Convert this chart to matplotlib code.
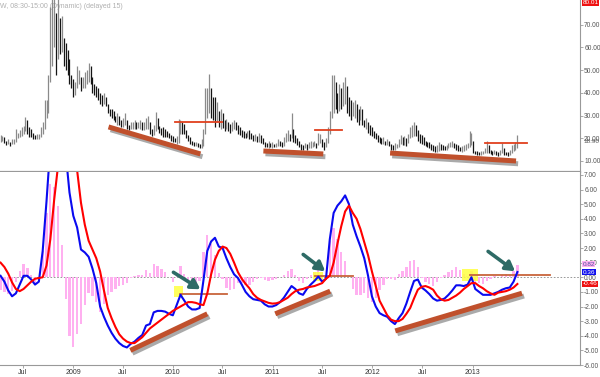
import numpy as np
import pandas as pd
import matplotlib
matplotlib.use("Agg")
import matplotlib.pyplot as plt
import matplotlib.patheffects as pe
from matplotlib.patches import Rectangle

plt.rcParams['font.family'] = ['Liberation Sans', 'DejaVu Sans']

# weekly VIX bars, first week ending 2008-04-11
start = pd.Timestamp('2008-04-11')

highs = [
    21.5, 21, 20.5, 19, 19.5, 18.5, 19.5, 19.5, 24, 22.5,
    23.5, 25, 25.5, 29.5, 28, 25, 24, 22.5, 21.5, 22,
    22, 25, 27, 37, 37, 48, 78, 85, 89, 75,
    84, 73, 74, 64, 62, 59, 55, 48, 46, 45,
    52, 50, 47, 47, 49, 50, 53, 52, 47, 44,
    43, 42, 40, 39, 40, 38, 35, 33, 33, 32,
    30, 31, 30, 28, 29, 31, 28, 26, 27, 27,
    28, 27, 27, 28, 27, 27, 29, 30, 27, 24,
    26, 31.5, 29, 25.5, 24.5, 25, 24, 23, 22.5, 21.5,
    21, 20, 21, 28.5, 28, 27, 26.5, 23.5, 21.5, 20.5,
    19, 18.5, 18.5, 18, 17.5, 19.5, 24, 42, 42, 48.5,
    42, 38, 38, 36, 32, 33, 31, 28, 28.5, 27,
    26.5, 27, 28, 27, 26, 25, 23.5, 23, 22.5, 23,
    23.5, 22.5, 21.5, 22, 21, 22.5, 21.5, 20, 18.5, 18,
    19, 18, 18.5, 17.5, 18, 19.5, 19, 18.5, 20.5, 22.5,
    23.5, 22, 31, 24, 21.5, 20, 19, 17.5, 17, 18,
    17.5, 18.5, 19, 18.5, 19, 18, 22.5, 22, 19.5, 18.5,
    20, 25, 32, 48, 48, 45, 40, 44, 42, 45,
    47, 43, 38, 37, 36, 37, 35, 33, 34, 33,
    28, 29, 27, 26, 25, 23, 22.5, 21.5, 20.5, 20,
    20.5, 19, 19.5, 19, 17.5, 17, 18, 17.5, 19.5, 21.5,
    20.5, 21, 20, 22, 25, 26, 27, 26, 23.5, 22,
    21.5, 20.5, 19, 18.5, 18.5, 17.5, 17, 16.5, 17, 18.5,
    17.5, 17, 16.5, 17, 18, 18.5, 19, 18, 17.5, 17,
    16, 16.5, 17, 17.5, 18, 23, 22.5, 19, 14.5, 14.5,
    14, 14.5, 14.5, 15.5, 19, 17, 15, 14.5, 15, 14.5,
    14, 15, 18, 15.5, 14, 14, 15, 17, 17.5, 18.5, 21.5]

lows = [
    18.5, 19, 18, 17, 17.5, 16.5, 17.5, 17.5, 18.5, 20,
    20.5, 21, 22, 23, 22, 20.5, 20.5, 19.5, 19.5, 19.5,
    19.5, 20.5, 22, 24, 29, 31, 45, 52, 60, 48,
    55, 57, 58, 52, 50, 48, 44, 42, 38, 39,
    42, 44, 41, 42, 42, 44, 45, 44, 40, 39,
    38, 37, 35, 34, 35, 34, 31, 30, 29, 28,
    27, 26, 26, 25, 25, 26, 24, 23.5, 24, 24,
    24, 24, 24.5, 24, 23.5, 23.5, 24, 24, 22, 21,
    21.5, 23, 24, 22.5, 21.5, 20.5, 20.5, 20.5, 20, 19,
    18.5, 18.5, 17.5, 18, 22, 22, 22, 20, 19, 17.5,
    17, 16.5, 16.5, 16, 15.5, 15.5, 16.5, 22, 29, 31,
    29, 28, 25, 27, 25, 24, 24.5, 23, 24, 23,
    22.5, 23, 24, 23.5, 22, 21.5, 20.5, 20, 20, 20.5,
    19.5, 19.5, 19, 19, 18.5, 18.5, 18, 17.5, 16, 16,
    15.5, 16, 15.5, 16, 16, 16.5, 16.5, 16, 16.5, 18.5,
    19, 19, 20, 18.5, 18, 17, 16, 15, 15, 15.5,
    15, 15.5, 15.5, 16, 16.5, 15.5, 17, 18, 16, 15,
    16, 18, 22, 29, 31, 33, 31, 32, 33, 34,
    35, 31, 30, 28, 30, 29, 27, 26, 28, 26,
    25, 24, 22.5, 21.5, 21, 20, 19.5, 18.5, 18, 17.5,
    17.5, 17, 17, 16.5, 15, 14.8, 15, 15.5, 16, 17.5,
    17, 17, 16.5, 18, 20, 20.5, 21, 21, 19, 18,
    17.5, 17, 16.5, 16, 15.5, 15, 14.5, 14, 14, 14.5,
    15, 15, 14.8, 15, 15.5, 16, 16, 15.5, 15, 14.5,
    14.5, 14, 14.5, 15, 15.5, 16, 17, 13.5, 13, 12.8,
    12.5, 12.8, 13, 13.5, 13.5, 13.5, 13, 12.8, 13, 12.5,
    12, 12.5, 13.5, 12.5, 12.5, 12.3, 12.5, 13.5, 14.5, 15, 15.5]

# MACD read every second week
macd = [
    0.1, -0.3, -0.9, -1.3, -1.1, -0.5, 0.1, 0.1, -0.15, -0.5,
    -0.3, 1.8, 5.2, 9, 11.5, 12.5, 11.5, 8.5, 5.8, 4.2,
    3.4, 1.9, 1.7, 1.4, 0.6, -0.4, -2.0, -2.7, -3.3, -3.8,
    -4.2, -4.5, -4.7, -4.8, -4.55, -4.4, -4.15, -3.95, -3.3, -3.2,
    -2.4, -2.3, -2.3, -2.35, -2.5, -2.6, -1.9, -1.2, -1.6, -2.0,
    -2.2, -2.2, -2.1, -0.2, 1.8, 2.45, 2.7, 2.1, 2.0, 1.3,
    0.7, 0.2, -0.05, -0.5, -1.0, -1.3, -1.5, -1.55, -1.6, -1.85,
    -2.0, -2.0, -1.9, -1.7, -1.4, -1.0, -0.6, -0.8, -1.1, -1.2,
    -0.8, -0.5, -0.25, 0.05, -0.3, -0.1, 2.6, 4.4, 4.9, 5.2,
    5.6, 5.0, 3.6, 2.8, 2.1, 1.3, 0.1, -1.3, -2.0, -2.45,
    -2.6, -2.7, -3.0, -3.2, -2.8, -2.45, -1.8, -1.0, -0.25, -0.15,
    -0.7, -0.9, -1.15, -1.45, -1.6, -1.55, -1.45, -1.2, -0.9, -0.55,
    -0.55, -0.6, -0.5, 0.0, -0.8, -1.0, -1.2, -1.2, -1.2, -1.1,
    -1.0, -0.85, -0.75, -0.7, -0.3, 0.36]

signal = [
    1.0, 0.7, 0.25, -0.35, -0.8, -0.95, -0.8, -0.55, -0.3, -0.1,
    -0.05, 0.0, 0.8, 2.6, 5.3, 7.6, 9.3, 10, 9.8, 9,
    7.3, 5.1, 3.6, 2.5, 1.9, 1.3, 0.4, -0.9, -2.1, -2.8,
    -3.4, -3.9, -4.2, -4.4, -4.5, -4.5, -4.3, -4.1, -3.8, -3.5,
    -3.3, -3.1, -2.9, -2.7, -2.5, -2.3, -2.15, -2.0, -1.85, -1.7,
    -1.7, -1.75, -1.85, -1.9, -1.1, 0.2, 1.2, 1.8, 2.1, 2.0,
    1.6, 1.0, 0.35, -0.1, -0.45, -0.75, -1.15, -1.4, -1.55, -1.65,
    -1.75, -1.8, -1.78, -1.7, -1.55, -1.4, -1.15, -0.95, -0.85, -0.8,
    -0.7, -0.65, -0.6, -0.5, -0.4, -0.1, 0.1, 1.0, 2.3, 3.5,
    4.5, 4.9, 4.4, 4.0, 3.3, 2.4, 1.5, 0.4, -0.6, -1.6,
    -2.1, -2.6, -2.9, -3.0, -3.0, -2.85, -2.5, -2.1, -1.45, -0.85,
    -0.65, -0.6, -0.7, -0.85, -1.25, -1.5, -1.6, -1.55, -1.4, -1.25,
    -1.05, -0.8, -0.6, -0.4, -0.4, -0.6, -0.75, -0.95, -1.1, -1.2,
    -1.05, -1.0, -0.95, -0.85, -0.7, -0.46]

tick_dates = ['2008-07-01', '2009-01-01', '2009-07-01', '2010-01-01', '2010-07-01',
              '2011-01-01', '2011-07-01', '2012-01-01', '2012-07-01', '2013-01-01']
tick_labels = ['Jul', '2009', 'Jul', '2010', 'Jul', '2011', 'Jul', '2012', 'Jul', '2013']

# hand drawn markup (week, value)
price_trends = [((56.4, 25.0), (104.4, 13.1)), ((137.3, 14.4), (168.6, 13.1)),
                ((203.5, 13.5), (269.3, 10.0))]
price_levels = [(91.3, 115.9, 27.2), (164.4, 178.5, 23.7), (253.1, 275.0, 17.9)]
macd_trends = [((67.8, -5.0), (108.0, -2.5)), ((143.5, -2.5), (172.2, -0.95)),
               ((206.2, -3.67), (272.4, -1.09))]
macd_levels = [(94.0, 118.5, -1.16), (164.4, 184.2, 0.07), (245.3, 287.0, 0.14)]
macd_boxes = [(90.8, 95.5, -1.36, -0.6), (163.4, 168.6, -0.27, 0.34), (241.1, 249.5, -0.27, 0.54)]
macd_arrows = [((90.3, 0.34), (104.4, -0.82)), ((158.1, 1.56), (169.6, 0.41)),
               ((254.7, 1.77), (268.8, 0.41))]

weeks = np.arange(len(highs))
mweeks = np.arange(0, len(highs), 2)
tick_pos = [(pd.Timestamp(d) - start).days / 7 for d in tick_dates]
hist = np.array(macd) - np.array(signal)

fig = plt.figure(figsize=(6, 3.77), dpi=100)
ax1 = fig.add_axes([0, 1 - 172 / 377, 580 / 600, 172 / 377])
ax2 = fig.add_axes([0, 1 - 365 / 377, 580 / 600, 193 / 377])
xmax = 580 / 1.916

shadow = [pe.SimpleLineShadow(offset=(1.5, -2), shadow_color='#444444', alpha=0.45), pe.Normal()]

# price panel
h = np.array(highs)
l = np.array(lows)
mid = (h + l) / 2
up = np.r_[True, mid[1:] >= mid[:-1]]
cols = np.where(up, '#8a8a8a', '#151515')
ax1.vlines(weeks, l, h, colors=cols, lw=0.9, zorder=2)
ax1.text(0.0, 0.965, 'W, 08:30-15:00 (Dynamic) (delayed 15)', transform=ax1.transAxes,
         fontsize=5, color='#b0b0b0', va='center', zorder=0)

for (p0, p1) in price_trends:
    ax1.plot([p0[0], p1[0]], [p0[1], p1[1]], color='#c0502c', lw=3.6,
             solid_capstyle='butt', path_effects=shadow, zorder=4)
for x0, x1, v in price_levels:
    ax1.plot([x0, x1], [v, v], color='#e0401e', lw=1.3, zorder=4)

ax1.set_xlim(-0.3, xmax)
ax1.set_ylim(5.15, 80.9)
ax1.set_xticks([])
ax1.yaxis.tick_right()
ax1.set_yticks([10, 20, 30, 40, 50, 60, 70])
ax1.set_yticklabels(['%.2f' % v for v in [10, 20, 30, 40, 50, 60, 70]])

ax1.text(1.004, 79.6, '80.01', transform=ax1.get_yaxis_transform(), fontsize=4.6,
         color='white', va='center', ha='left',
         bbox=dict(boxstyle='square,pad=0.12', fc='#ee1111', ec='none'), clip_on=False)
ax1.text(1.006, 18.4, '18.90', transform=ax1.get_yaxis_transform(), fontsize=4.6,
         color='#555555', va='center', ha='left', clip_on=False)

# macd panel
ax2.axhline(0, color='#888888', ls=(0, (2, 2)), lw=0.6, zorder=1)
ax2.bar(mweeks, hist, width=1.2, color='#ffb0f0', zorder=1)

for x0, x1, y0, y1 in macd_boxes:
    ax2.add_patch(Rectangle((x0, y0), x1 - x0, y1 - y0, fc='#ffff40', ec='none',
                            alpha=0.85, zorder=2))
for x0, x1, v in macd_levels:
    ax2.plot([x0, x1], [v, v], color='#c8643c', lw=1.3, zorder=2.5)

ax2.plot(mweeks, macd, color='#0a0af0', lw=1.5, zorder=3)
ax2.plot(mweeks, signal, color='#ff0000', lw=1.5, zorder=3.2)

for (p0, p1) in macd_trends:
    ax2.plot([p0[0], p1[0]], [p0[1], p1[1]], color='#c0502c', lw=3.6,
             solid_capstyle='butt', path_effects=shadow, zorder=4)
for (p0, p1) in macd_arrows:
    ax2.annotate('', xy=p1, xytext=p0, zorder=5,
                 arrowprops=dict(arrowstyle='-|>,head_width=0.35,head_length=0.6',
                                 color='#2e6b66', lw=2.6, mutation_scale=9,
                                 shrinkA=0, shrinkB=0))

ax2.set_xlim(-0.3, xmax)
ax2.set_ylim(-6.0, 7.2)
ax2.set_xticks(tick_pos)
ax2.set_xticklabels(tick_labels)
ax2.yaxis.tick_right()
mt = [7, 6, 5, 4, 3, 2, 1, 0, -1, -2, -3, -4, -5, -6]
ax2.set_yticks(mt)
ax2.set_yticklabels(['%.2f' % v for v in mt])

ytr = ax2.get_yaxis_transform()
ax2.text(1.004, 0.9, '0.82', transform=ytr, fontsize=4.6, color='#5050a0', va='center',
         bbox=dict(boxstyle='square,pad=0.12', fc='#ffb0f0', ec='none'), clip_on=False)
ax2.text(1.004, 0.36, '0.36', transform=ytr, fontsize=4.6, color='white', va='center',
         bbox=dict(boxstyle='square,pad=0.12', fc='#1010ee', ec='none'), clip_on=False)
ax2.text(1.004, -0.46, '-0.46', transform=ytr, fontsize=4.6, color='white', va='center',
         bbox=dict(boxstyle='square,pad=0.12', fc='#ee1111', ec='none'), clip_on=False)

for ax in (ax1, ax2):
    ax.spines['left'].set_visible(False)
    ax.spines['top'].set_visible(False)
    for s in ('right', 'bottom'):
        ax.spines[s].set_color('#999999')
        ax.spines[s].set_linewidth(0.8)
    ax.tick_params(axis='y', labelsize=4.8, labelcolor='#555555', length=2,
                   width=0.5, color='#888888', pad=1)
    ax.tick_params(axis='x', labelsize=5, labelcolor='#333333', length=2,
                   width=0.5, color='#888888', pad=1)
ax1.spines['bottom'].set_linewidth(1.6)

fig.savefig('out.png', dpi=100)
